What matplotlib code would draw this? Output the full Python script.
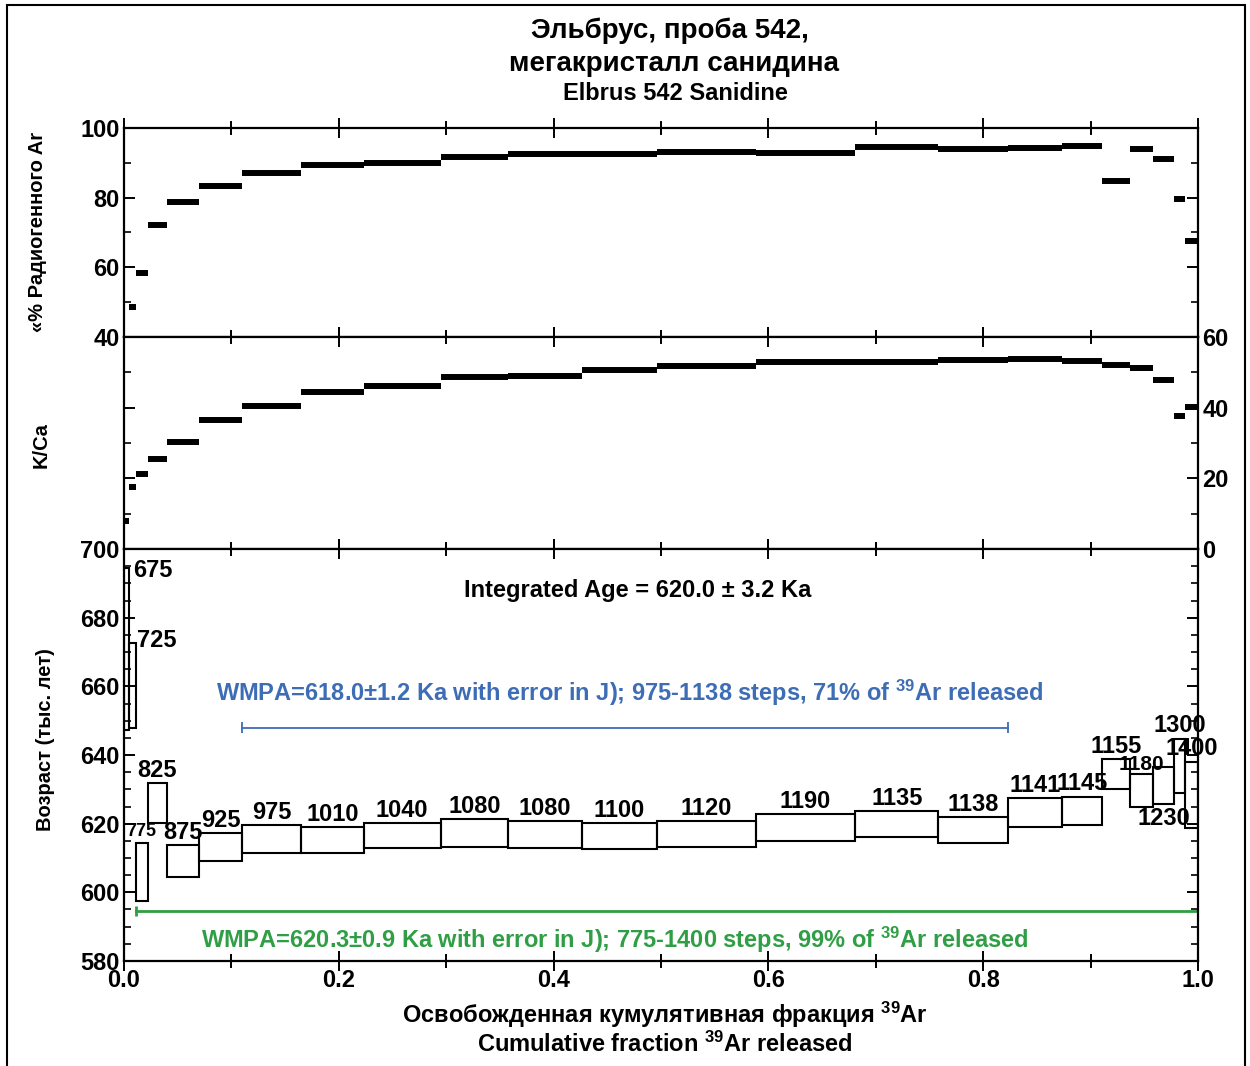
# Elbrus 542 sanidine: 40Ar/39Ar step-heating spectrum
# three stacked panels: %Ar*, K/Ca, age (ka) vs cumulative 39Ar fraction

import numpy as np
import matplotlib.pyplot as plt
from matplotlib.patches import Rectangle
from matplotlib.ticker import MultipleLocator

plt.rcParams['font.family'] = ['Liberation Sans', 'DejaVu Sans']
plt.rcParams['font.weight'] = 'bold'
plt.rcParams['mathtext.fontset'] = 'custom'
plt.rcParams['mathtext.rm'] = 'Liberation Sans:bold'
plt.rcParams['mathtext.it'] = 'Liberation Sans:bold'
plt.rcParams['mathtext.bf'] = 'Liberation Sans:bold'

# --- Data ---
steps = ["675", "725", "775", "825", "875", "925", "975", "1010", "1040", "1080",
         "1080", "1100", "1120", "1190", "1135", "1138", "1141", "1145", "1155",
         "1180", "1230", "1300", "1400"]
frac_edges = [0.0, 0.005, 0.011, 0.022, 0.040, 0.070, 0.110, 0.165, 0.223, 0.295,
              0.358, 0.426, 0.496, 0.588, 0.681, 0.758, 0.823, 0.873, 0.911,
              0.937, 0.958, 0.978, 0.988, 1.0]
rad_ar = [35.0, 48.6, 58.4, 72.2, 78.8, 83.3, 87.1, 89.4, 90.0, 91.6,
          92.6, 92.6, 93.1, 92.7, 94.5, 94.0, 94.2, 94.7, 84.8,
          94.0, 91.1, 79.6, 67.6]
k_ca = [8.0, 17.6, 21.3, 25.6, 30.4, 36.4, 40.6, 44.3, 46.0, 48.6,
        48.9, 50.6, 51.7, 52.8, 52.8, 53.4, 53.9, 53.1, 52.0,
        51.1, 47.7, 37.5, 40.3]
age_lo = [647.3, 647.9, 597.5, 620.2, 604.5, 609.1, 611.5, 611.5, 613.0, 613.2,
          612.9, 612.6, 613.2, 615.0, 616.1, 614.4, 619.0, 619.6, 630.1,
          624.9, 625.7, 628.9, 618.7]
age_hi = [694.5, 672.6, 614.4, 631.8, 613.8, 617.3, 619.6, 619.0, 620.2, 621.3,
          620.8, 620.2, 620.8, 622.8, 623.7, 621.9, 627.5, 627.8, 638.8,
          634.5, 636.5, 644.7, 638.0]

# plateau ages
blue_age, blue_first, blue_last = 648.0, 6, 15     # 975 .. 1138
green_age, green_first = 594.6, 2                  # 775 .. 1400
blue_text = "WMPA=618.0±1.2 Ka with error in J); 975-1138 steps, 71% of $^{39}$Ar released"
green_text = "WMPA=620.3±0.9 Ka with error in J); 775-1400 steps, 99% of $^{39}$Ar released"
BLUE = "#3d6db5"
GREEN = "#2f9e45"

edges = np.array(frac_edges)
left = edges[:-1]
width = np.diff(edges)
right = edges[1:]
mid = left + width / 2

# --- Figure ---
W, H = 1250, 1066
fig = plt.figure(figsize=(W / 100, H / 100), dpi=100)

def px_box(x0, y0, x1, y1):
    return [x0 / W, 1 - y1 / H, (x1 - x0) / W, (y1 - y0) / H]

ax_ar = fig.add_axes(px_box(124, 128, 1198, 337))
ax_kc = fig.add_axes(px_box(124, 337, 1198, 549))
ax_age = fig.add_axes(px_box(124, 549, 1198, 961))

for ax in (ax_ar, ax_kc, ax_age):
    ax.set_xlim(0, 1)
    for s in ax.spines.values():
        s.set_linewidth(1.6)
    ax.xaxis.set_major_locator(MultipleLocator(0.2))
    ax.xaxis.set_minor_locator(MultipleLocator(0.1))
    ax.tick_params(axis='x', which='major', direction='inout', length=14, width=1.4,
                   top=True, bottom=True, labelsize=17)
    ax.tick_params(axis='x', which='minor', direction='inout', length=10, width=1.4,
                   top=True, bottom=True)
    ax.tick_params(axis='y', which='major', direction='in', length=8, width=1.4,
                   left=True, right=True, labelsize=17, pad=3)
    ax.tick_params(axis='y', which='minor', direction='in', length=5, width=1.2,
                   left=True, right=True)

# top: % radiogenic Ar
ax_ar.hlines(rad_ar, left, right, colors='k', lw=4.3)
ax_ar.set_ylim(40, 100)
ax_ar.yaxis.set_major_locator(MultipleLocator(20))
ax_ar.yaxis.set_minor_locator(MultipleLocator(10))
ax_ar.tick_params(axis='x', labelbottom=False)

# middle: K/Ca
ax_kc.hlines(k_ca, left, right, colors='k', lw=4.3)
ax_kc.set_ylim(0, 60)
ax_kc.yaxis.set_major_locator(MultipleLocator(20))
ax_kc.yaxis.set_minor_locator(MultipleLocator(10))
ax_kc.tick_params(axis='x', labelbottom=False)
ax_kc.tick_params(axis='y', labelleft=False, labelright=True)

# bottom: age spectrum boxes
lo = np.array(age_lo)
hi = np.array(age_hi)
ax_age.bar(left, hi - lo, width=width, bottom=lo, align='edge', fill=False,
           edgecolor='k', linewidth=1.5)
ax_age.set_ylim(580, 700)
ax_age.yaxis.set_major_locator(MultipleLocator(20))
ax_age.yaxis.set_minor_locator(MultipleLocator(5))
ax_age.set_xticks(np.arange(0, 1.01, 0.2))
ax_age.set_xticklabels(["0.0", "0.2", "0.4", "0.6", "0.8", "1.0"])
ax_age.tick_params(axis='x', pad=-1)

# step labels: centred over the box unless noted
special = {
    0: dict(xy=(right[0], hi[0]), xytext=(3, -2), ha='left', va='center', size=17),
    1: dict(xy=(right[1], hi[1]), xytext=(1, 2), ha='left', va='center', size=17),
    2: dict(xy=(mid[2], hi[2]), xytext=(0, 2), ha='center', va='bottom', size=13),
    19: dict(xy=(mid[19], hi[19]), xytext=(0, 0), ha='center', va='bottom', size=15),
    20: dict(xy=(mid[20], lo[20]), xytext=(0, -2), ha='center', va='top', size=17),
}
for i, lab in enumerate(steps):
    kw = special.get(i, dict(xy=(mid[i], hi[i]), xytext=(0, 1), ha='center',
                             va='bottom', size=17))
    ax_age.annotate(lab, textcoords='offset points', fontweight='bold', **kw)

ax_age.text(0.478, 688, "Integrated Age = 620.0 ± 3.2 Ka", ha='center', va='center',
            fontsize=17, fontweight='bold')

# plateau bars
ax_age.plot([left[blue_first], right[blue_last]], [blue_age, blue_age], color=BLUE, lw=1.3)
ax_age.vlines([left[blue_first], right[blue_last]], blue_age - 1.5, blue_age + 1.5,
              color=BLUE, lw=1.3)
ax_age.text(0.471, 658, blue_text, color=BLUE, ha='center', va='center', fontsize=17,
            fontweight='bold')

ax_age.plot([left[green_first], 1.0], [green_age, green_age], color=GREEN, lw=2)
ax_age.vlines([left[green_first]], green_age - 1.5, green_age + 1.5, color=GREEN, lw=2)
ax_age.text(0.457, 586.1, green_text, color=GREEN, ha='center', va='center',
            fontsize=17, fontweight='bold')

# axis titles
fig.text(38 / W, 1 - 232 / H, "«% Радиогенного Ar", rotation=90, ha='center',
         va='center', fontsize=14.5, fontweight='bold')
fig.text(41 / W, 1 - 445 / H, "K/Ca", rotation=90, ha='center', va='center',
         fontsize=14.5, fontweight='bold')
fig.text(46 / W, 1 - 740 / H, "Возраст (тыс. лет)", rotation=90, ha='center',
         va='center', fontsize=14.5, fontweight='bold')
fig.text(665 / W, 1 - 1015 / H, "Освобожденная кумулятивная фракция $^{39}$Ar",
         ha='center', va='center', fontsize=17, fontweight='bold')
fig.text(665 / W, 1 - 1044 / H, "Cumulative fraction $^{39}$Ar released",
         ha='center', va='center', fontsize=17, fontweight='bold')

# title
fig.text(670 / W, 1 - 31 / H, "Эльбрус, проба 542,", ha='center', va='center',
         fontsize=20, fontweight='bold')
fig.text(674 / W, 1 - 64 / H, "мегакристалл санидина", ha='center', va='center',
         fontsize=20, fontweight='bold')
fig.text(675 / W, 1 - 94 / H, "Elbrus 542 Sanidine", ha='center', va='center',
         fontsize=17, fontweight='bold')

# outer frame
fig.patches.append(Rectangle((7 / W, -0.02), (1245 - 7) / W, 1 - 5 / H + 0.02,
                             transform=fig.transFigure, fill=False,
                             edgecolor='k', lw=1.5))

fig.savefig("out.png", dpi=100)
